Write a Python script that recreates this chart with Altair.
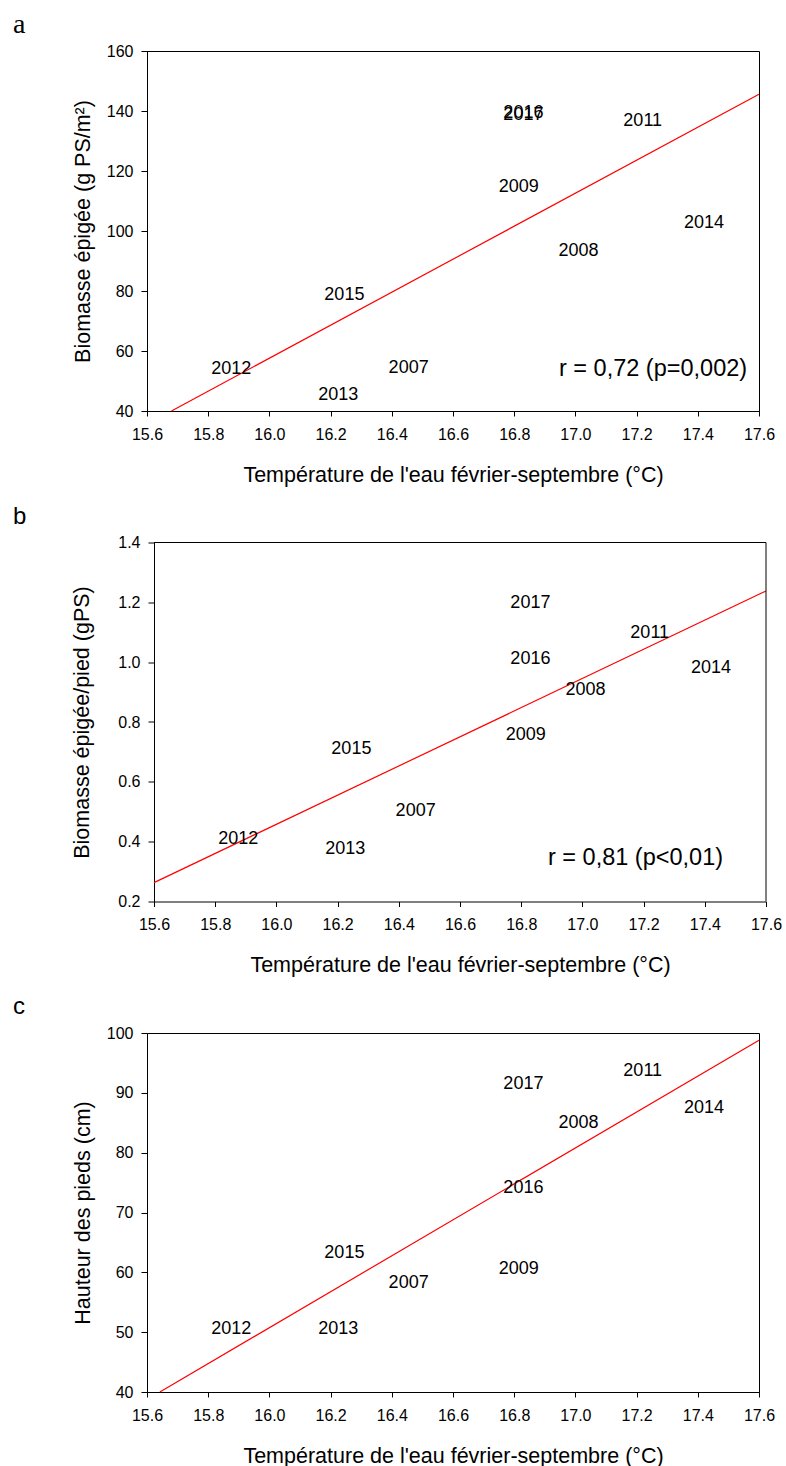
import altair as alt
import pandas as pd

# ---------------- data ----------------
years = ["2007", "2008", "2009", "2011", "2012", "2013", "2014", "2015", "2016", "2017"]
temperature = [16.455, 17.01, 16.815, 17.22, 15.875, 16.225, 17.42, 16.245, 16.83, 16.83]

biomass = [54.4, 93.3, 114.7, 136.7, 54.0, 45.3, 102.8, 78.7, 139.4, 138.6]
biomass_per_plant = [0.503, 0.907, 0.756, 1.096, 0.408, 0.374, 0.979, 0.709, 1.012, 1.197]
plant_height = [58.2, 85.0, 60.5, 93.7, 50.5, 50.5, 87.4, 63.2, 74.1, 91.5]

fit_a_x = [15.68, 17.6]
fit_a_y = [40.0, 145.6]
fit_b_x = [15.6, 17.6]
fit_b_y = [0.263, 1.238]
fit_c_x = [15.642, 17.6]
fit_c_y = [40.0, 98.8]

x_ticks = [15.6, 15.8, 16.0, 16.2, 16.4, 16.6, 16.8, 17.0, 17.2, 17.4, 17.6]
y_ticks_a = [40, 60, 80, 100, 120, 140, 160]
y_ticks_b = [0.2, 0.4, 0.6, 0.8, 1.0, 1.2, 1.4]
y_ticks_c = [40, 50, 60, 70, 80, 90, 100]

x_title = "Température de l'eau février-septembre (°C)"
y_title_a = "Biomasse épigée (g PS/m²)"
y_title_b = "Biomasse épigée/pied (gPS)"
y_title_c = "Hauteur des pieds (cm)"
stat_a = "r = 0,72 (p=0,002)"
stat_b = "r = 0,81 (p<0,01)"

SANS = "Liberation Sans"
SERIF = "Liberation Serif"


def panel(values, y_ticks, y_fmt, y_title, fit_x, fit_y, letter, letter_font,
          letter_size, letter_y, stat=None, stat_x=0, stat_y=0, height=360,
          shift=0, y_title_x=-58):
    width = 612 + shift
    df = pd.DataFrame({"temp": temperature, "val": values, "year": years})
    fit = pd.DataFrame({"temp": fit_x, "val": fit_y})

    xs = dict(domain=[x_ticks[0], x_ticks[-1]], nice=False, zero=False)
    if shift:
        xs["range"] = [shift, width]
    x_scale = alt.Scale(**xs)
    y_scale = alt.Scale(domain=[y_ticks[0], y_ticks[-1]], nice=False, zero=False)

    x_axis = alt.Axis(values=x_ticks, format=".1f", title=x_title, grid=False,
                      tickSize=5, labelPadding=10, labelFontSize=16, labelFont=SANS,
                      labelColor="black", labelFlush=False, labelOverlap=False,
                      titleFont=SANS, titleFontSize=21.5, titleFontWeight="normal",
                      titleColor="black", titleY=70, titleBaseline="alphabetic",
                      domainColor="black", tickColor="black")
    yargs = dict(values=y_ticks, format=y_fmt, title=y_title, grid=False,
                 tickSize=6, labelPadding=8, labelFontSize=16, labelFont=SANS,
                 labelColor="black", labelFlush=False, labelOverlap=False,
                 titleFont=SANS, titleFontSize=21.5, titleFontWeight="normal",
                 titleColor="black", titleX=y_title_x, titleBaseline="alphabetic",
                 domainColor="black", tickColor="black")
    if shift:
        yargs["offset"] = -shift
    y_axis = alt.Axis(**yargs)

    base = alt.Chart(df)
    labels = base.mark_text(font=SANS, fontSize=18, color="black",
                            align="center", baseline="middle").encode(
        x=alt.X("temp:Q", scale=x_scale, axis=x_axis),
        y=alt.Y("val:Q", scale=y_scale, axis=y_axis),
        text="year:N",
    )
    line = alt.Chart(fit).mark_line(color="#ff0000", strokeWidth=1.2).encode(
        x=alt.X("temp:Q", scale=x_scale, axis=x_axis),
        y=alt.Y("val:Q", scale=y_scale, axis=y_axis),
    )
    letter_df = pd.DataFrame({"t": [letter]})
    letter_mark = alt.Chart(letter_df).mark_text(
        font=letter_font, fontSize=letter_size, color="black",
        align="left", baseline="top").encode(
        text="t:N", x=alt.value(-134), y=alt.value(letter_y))
    layers = [line, labels, letter_mark]
    if stat:
        stat_df = pd.DataFrame({"t": [stat]})
        layers.append(alt.Chart(stat_df).mark_text(
            font=SANS, fontSize=23.5, color="black", align="left",
            baseline="middle").encode(text="t:N", x=alt.value(stat_x),
                                      y=alt.value(stat_y)))
    if shift:
        frame = pd.DataFrame({
            "temp": [x_ticks[0], x_ticks[-1]],
            "temp_end": [x_ticks[-1], x_ticks[-1]],
            "val": [y_ticks[-1], y_ticks[0]],
            "val_end": [y_ticks[-1], y_ticks[-1]],
        })
        layers.append(alt.Chart(frame).mark_rule(color="black", strokeWidth=1).encode(
            x=alt.X("temp:Q", scale=x_scale, axis=x_axis),
            x2="temp_end:Q",
            y=alt.Y("val:Q", scale=y_scale, axis=y_axis),
            y2="val_end:Q",
        ))
    ch = alt.layer(*layers).properties(width=width, height=height)
    if shift:
        ch = ch.properties(view=alt.ViewBackground(stroke="transparent"))
    return ch


pa = panel(biomass, y_ticks_a, "d", y_title_a, fit_a_x, fit_a_y, "a", SERIF, 28, -40,
           stat=stat_a, stat_x=412, stat_y=318, height=360)
pb = panel(biomass_per_plant, y_ticks_b, ".1f", y_title_b, fit_b_x, fit_b_y, "b", SANS, 24,
           -37.3, stat=stat_b, stat_x=401, stat_y=315, height=359, shift=7,
           y_title_x=-66)
pc = panel(plant_height, y_ticks_c, "d", y_title_c, fit_c_x, fit_c_y, "c", SANS, 24,
           -37.7, height=359)

chart = alt.vconcat(pa, pb, pc, spacing=131.5, bounds="flush").properties(
    padding={"left": 12, "top": 10, "right": 0, "bottom": 0}
).configure_view(stroke="black", strokeWidth=1)

chart.save("out.html", embed_options={"renderer": "svg", "actions": False})
